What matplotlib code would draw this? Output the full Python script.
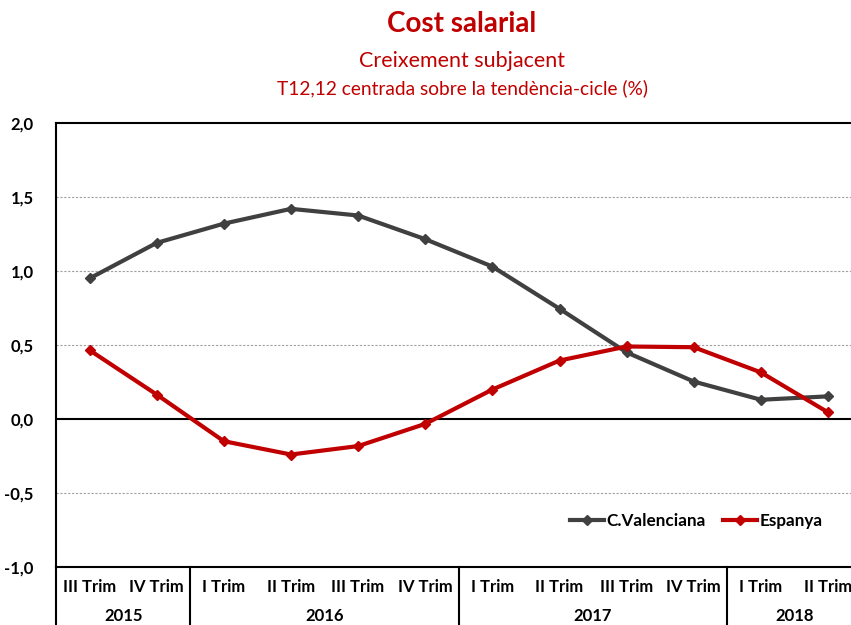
import numpy as np
import matplotlib
matplotlib.use("Agg")
import matplotlib.pyplot as plt

# quarters 2015 Q3 .. 2018 Q2
quarters = ["III Trim", "IV Trim", "I Trim", "II Trim", "III Trim", "IV Trim",
            "I Trim", "II Trim", "III Trim", "IV Trim", "I Trim", "II Trim"]
years = ["2015", "2016", "2017", "2018"]
year_span = [2, 4, 4, 2]  # quarters per year group

cval = [0.95, 1.19, 1.32, 1.42, 1.375, 1.215, 1.03, 0.745, 0.45, 0.253, 0.13, 0.153]
espanya = [0.465, 0.165, -0.15, -0.24, -0.183, -0.033, 0.199, 0.395, 0.49, 0.485, 0.315, 0.045]

red = "#C00000"
grey = "#404040"
font = "Lato"

fig = plt.figure(figsize=(8.51, 6.25), dpi=100)
ax = fig.add_axes([56/851, 1-567/625, 805.6/851, 444/625])

x = np.arange(len(quarters))
ax.plot(x, cval, color=grey, lw=3, marker="D", ms=5, label="C.Valenciana", zorder=3)
ax.plot(x, espanya, color=red, lw=3, marker="D", ms=5, label="Espanya", zorder=3)

ax.set_xlim(-0.5, len(quarters) - 0.5)
ax.set_ylim(-1.0, 2.0)
yt = np.arange(-1.0, 2.01, 0.5)
ax.set_yticks(yt)
ax.set_yticklabels([f"{v:.1f}".replace(".", ",") for v in yt],
                   fontweight="bold", fontsize=12, family=font)
ax.tick_params(axis="y", length=0, pad=16)
ax.set_xticks([])

for v in [-0.5, 0.5, 1.0, 1.5]:
    ax.axhline(v, color="#a0a0a0", lw=0.8, ls=(0, (2, 1.5)), zorder=1)
ax.axhline(0, color="black", lw=1.5, zorder=2)

ax.spines["right"].set_visible(False)
for s in ["left", "top", "bottom"]:
    ax.spines[s].set_linewidth(1.5)

tr = ax.get_xaxis_transform()
for i, q in enumerate(quarters):
    ax.text(i, -0.045, q, transform=tr, ha="center", va="center",
            fontsize=12, fontweight="bold", family=font)

start = 0
bounds = [-0.5]
for yr, n in zip(years, year_span):
    mid = start + (n - 1) / 2
    ax.text(mid, -0.11, yr, transform=tr, ha="center", va="center",
            fontsize=12, fontweight="bold", family=font)
    start += n
    bounds.append(start - 0.5)
for b in bounds[:-1]:
    ax.plot([b, b], [0, -0.14], transform=tr, color="black", lw=1.5, clip_on=False)

leg = ax.legend(loc="center", bbox_to_anchor=(0.795, 0.104), ncol=2, frameon=False,
                handlelength=2.0, handletextpad=0.15, columnspacing=1.0,
                prop={"family": font, "weight": "bold", "size": 12.3})

cx = 462 / 851
fig.text(cx, 1-24/625, "Cost salarial", ha="center", va="center", color=red,
         fontsize=20, fontweight="bold", family=font)
fig.text(cx, 1-61/625, "Creixement subjacent", ha="center", va="center", color=red,
         fontsize=15.5, family=font)
fig.text(cx, 1-88/625, "T12,12 centrada sobre la tendència-cicle (%)", ha="center",
         va="center", color=red, fontsize=13.8, family=font)

fig.savefig("out.png", dpi=100)
